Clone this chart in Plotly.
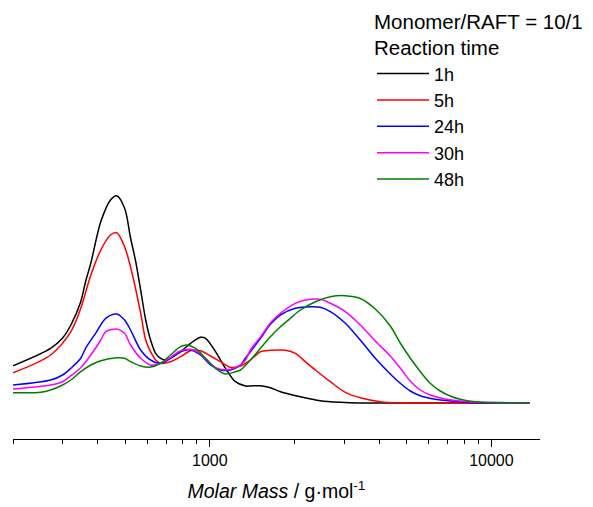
import math
import plotly.graph_objects as go

# Molar mass (g/mol) and detector intensity (arbitrary units)
m_1h = [200, 272, 300, 321, 348, 362, 378, 410, 444, 467, 498, 523, 545, 568, 592, 616, 642, 669, 697,
        787, 854, 927, 966, 1048, 1137, 1233, 1339, 1394, 1513, 1641, 1781, 2097, 2470, 2907, 3422, 5000, 13700]
i_1h = [37.3, 54.7, 65, 78, 101.3, 121.3, 140, 181.3, 203, 207.3, 195, 165, 142, 113, 83, 63, 49.7, 44.7, 43,
        51.3, 59.7, 65.7, 64.7, 51.3, 34.7, 21.3, 17, 17, 17.3, 15.3, 11.3, 6.3, 2.3, 0.7, 0, 0, 0]

m_5h = [200, 272, 321, 348, 378, 410, 444, 467, 498, 523, 568, 592, 616, 642, 669, 725, 787, 854, 927,
        1006, 1091, 1184, 1285, 1394, 1513, 1641, 1855, 2013, 2184, 2371, 2679, 3028, 3422, 4031, 4746, 13700]
i_5h = [30.3, 48, 71.3, 94.7, 128, 153, 168, 170.3, 156.3, 136, 90, 63, 51.3, 43, 39.7, 41.3, 46.3, 52.3, 52.3,
        47, 41.3, 35.7, 37, 43, 51.3, 52.7, 52.7, 49.7, 41.3, 33, 21.3, 10.7, 5.3, 1.3, 0, 0]

m_24h = [200, 272, 300, 321, 348, 362, 393, 427, 467, 498, 523, 568, 616, 669, 725, 787, 854, 927, 1006,
         1091, 1184, 1285, 1339, 1394, 1513, 1641, 1781, 2013, 2276, 2470, 2679, 3028, 3422, 3869, 4374,
         4746, 5149, 5587, 6314, 7138, 8403, 13700]
i_24h = [18, 23, 28, 34.7, 44.7, 54.7, 69.7, 84.7, 89, 83, 73, 53, 43, 39.7, 44.7, 51.3, 53, 48, 38,
         33, 33, 38, 45, 51.3, 64.7, 78.7, 88, 94.7, 96.3, 95.7, 91.3, 79.7, 63, 44.7, 29,
         19.7, 12, 7.3, 3.7, 2, 0.5, 0]

m_30h = [200, 272, 300, 321, 348, 378, 410, 427, 467, 498, 523, 568, 616, 669, 725, 787, 854, 927, 1006,
         1091, 1184, 1285, 1339, 1394, 1513, 1641, 1781, 2013, 2184, 2470, 2679, 3028, 3422, 3869, 4374,
         4746, 5149, 5587, 6062, 6853, 7745, 9119, 13700]
i_30h = [14, 18, 21.3, 27.3, 35.3, 48, 63, 71.3, 74, 69.7, 58, 44.7, 38, 39.7, 45.7, 52.3, 53.7, 49, 39,
         33.7, 33.7, 38, 43, 53, 66, 80, 89.7, 99.7, 103, 103.7, 99.7, 91.3, 78, 62, 47,
         35, 22, 13, 8, 4, 2, 0.7, 0]

m_48h = [200, 251, 272, 300, 321, 348, 378, 410, 467, 498, 523, 568, 609, 669, 725, 787, 827, 890, 966,
         1048, 1137, 1233, 1285, 1394, 1513, 1641, 1781, 1932, 2097, 2371, 2679, 3028, 3422, 3869, 4374,
         4746, 5149, 5587, 6062, 6577, 7138, 7745, 8753, 10737, 13700]
i_48h = [10.3, 10.7, 13, 18, 23, 31.3, 38, 42.3, 45.3, 44.7, 41.3, 37, 35.7, 39.7, 48, 56.3, 58, 54.7, 44.7,
         34.7, 29, 31.3, 33, 43, 54.7, 66.3, 76.3, 84.7, 93, 101.3, 106.3, 107.3, 104.5, 94, 77,
         60, 45, 31.5, 19.7, 12, 7, 3.7, 1.3, 0.5, 0]

series = [
    ("1h", m_1h, i_1h, "#000000"),
    ("5h", m_5h, i_5h, "#FF0000"),
    ("24h", m_24h, i_24h, "#0000FF"),
    ("30h", m_30h, i_30h, "#FF00FF"),
    ("48h", m_48h, i_48h, "#008000"),
]

major_ticks = [1000, 10000]
minor_ticks = [200, 300, 400, 500, 600, 700, 800, 900,
               2000, 3000, 4000, 5000, 6000, 7000, 8000, 9000]

FONT = "Liberation Sans, Arial, sans-serif"

fig = go.Figure()
for name, m, inten, color in series:
    fig.add_trace(go.Scatter(
        x=m, y=inten, name=name, mode="lines",
        line=dict(color=color, width=1.5, shape="spline", smoothing=0.9),
    ))

fig.update_layout(
    width=593, height=507,
    margin=dict(l=13, r=53, t=10, b=68, pad=0, autoexpand=False),
    paper_bgcolor="white", plot_bgcolor="white",
    font=dict(family=FONT, color="black"),
    showlegend=True,
    legend=dict(
        title=dict(text="Monomer/RAFT = 10/1<br>Reaction time", font=dict(size=20.5, family=FONT)),
        font=dict(size=18, family=FONT),
        x=(372 - 13) / 527, xanchor="left",
        y=1 + 8 / 429, yanchor="top",
        bgcolor="rgba(0,0,0,0)",
        itemwidth=52,
        tracegroupgap=0,
    ),
)

fig.update_xaxes(
    type="log",
    range=[math.log10(200), math.log10(14880)],
    showline=True, linecolor="black", linewidth=1.3,
    showgrid=False, zeroline=False,
    ticks="outside", ticklen=7, tickwidth=1.3, tickcolor="black",
    tickmode="array", tickvals=major_ticks, ticktext=[str(v) for v in major_ticks],
    tickfont=dict(size=16, family=FONT),
    minor=dict(tickmode="array", tickvals=minor_ticks, ticks="outside", ticklen=4,
               tickwidth=1.3, tickcolor="black", showgrid=False),
    title=dict(text="<i>Molar Mass</i> / g·mol<sup>-1</sup>", font=dict(size=19.5, family=FONT), standoff=16),
    automargin=False,
)
fig.update_yaxes(visible=False, range=[-36, 393], showgrid=False, zeroline=False)

fig.write_html("out.html")
